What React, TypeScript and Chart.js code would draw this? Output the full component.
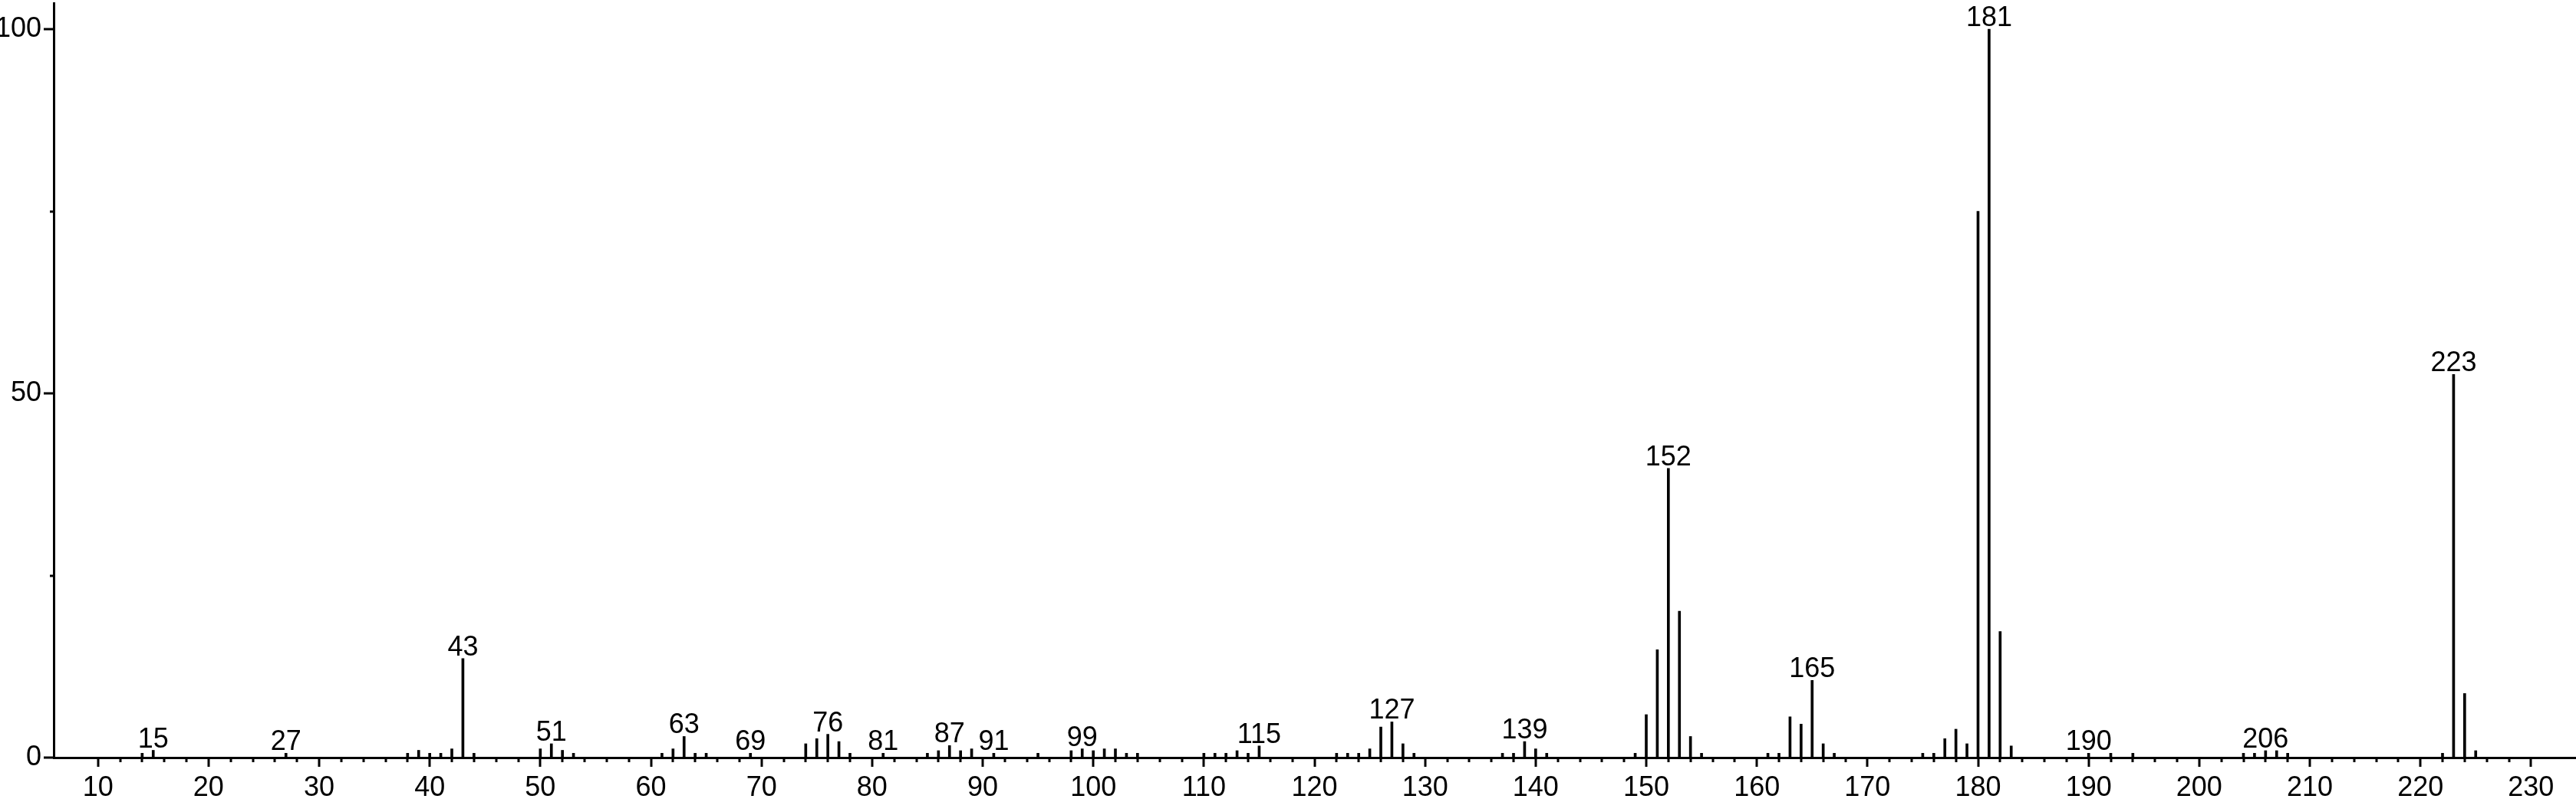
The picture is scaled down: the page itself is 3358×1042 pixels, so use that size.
import React, { useEffect, useRef } from "react";
import { Chart, registerables } from "chart.js";

Chart.register(...registerables);

// m/z values of the peaks
const masses = [
  14, 15, 27, 38, 39, 40, 41, 42, 43, 44,
  50, 51, 52, 53, 61, 62, 63, 64, 65, 69,
  74, 75, 76, 77, 78, 81, 85, 86, 87, 88, 89, 91,
  95, 98, 99, 100, 101, 102, 103, 104,
  110, 111, 112, 113, 114, 115,
  122, 123, 124, 125, 126, 127, 128, 129,
  137, 138, 139, 140, 141,
  149, 150, 151, 152, 153, 154, 155,
  161, 162, 163, 164, 165, 166, 167,
  175, 176, 177, 178, 179, 180, 181, 182, 183,
  190, 192, 194, 204, 205, 206, 207, 208,
  222, 223, 224, 225,
];

// relative intensities (%)
const intensities = [
  0.6, 1.0, 0.6, 0.6, 1.0, 0.6, 0.6, 1.2, 13.6, 0.6,
  1.2, 1.9, 1.0, 0.6, 0.6, 1.2, 2.9, 0.6, 0.6, 0.6,
  1.9, 2.6, 3.2, 2.2, 0.6, 0.6, 0.6, 0.95, 1.65, 0.95, 1.2, 0.6,
  0.6, 0.95, 1.2, 0.95, 1.2, 1.2, 0.6, 0.6,
  0.6, 0.6, 0.6, 0.95, 0.6, 1.6,
  0.6, 0.6, 0.6, 1.2, 4.2, 4.9, 1.9, 0.6,
  0.6, 0.6, 2.2, 1.2, 0.6,
  0.6, 5.9, 14.8, 39.7, 20.1, 2.9, 0.6,
  0.6, 0.6, 5.6, 4.6, 10.6, 1.9, 0.6,
  0.6, 0.6, 2.6, 3.9, 1.9, 75.0, 100, 17.3, 1.6,
  0.6, 0.6, 0.6, 0.6, 0.6, 0.95, 0.95, 0.6,
  0.6, 52.6, 8.8, 0.95,
];

// peaks that carry an m/z annotation
const labeledMasses = [15, 27, 43, 51, 63, 69, 76, 81, 87, 91, 99, 115, 127, 139, 152, 165, 181, 190, 206, 223];

const xTickLabels = [10, 20, 30, 40, 50, 60, 70, 80, 90, 100, 110, 120, 130, 140, 150, 160, 170, 180, 190, 200, 210, 220, 230];
const xMinorTicks = Array.from({ length: 111 }, (_, i) => 10 + i * 2);
const yTickLabels = [0, 50, 100];
const yMinorTicks = [25, 75];

const FONT = '"Liberation Sans", Arial, sans-serif';
const FONT_SIZE = 36;

const decorPlugin = {
  id: "decor",
  afterDraw(chart: any) {
    const ctx = chart.ctx;
    const xs = chart.scales.x;
    const ys = chart.scales.y;
    const base = ys.getPixelForValue(0);
    const axisX = xs.left;
    ctx.save();
    ctx.strokeStyle = "#000";
    ctx.lineWidth = 3;
    // x ticks
    for (const v of xMinorTicks) {
      if (v < xs.min || v > xs.max) continue;
      const px = Math.round(xs.getPixelForValue(v));
      const len = v % 10 === 0 ? 12 : 6;
      ctx.beginPath();
      ctx.moveTo(px, base);
      ctx.lineTo(px, base + len);
      ctx.stroke();
    }
    // y ticks
    for (const v of [...yTickLabels, ...yMinorTicks]) {
      const py = Math.round(ys.getPixelForValue(v));
      const len = yTickLabels.includes(v) ? 13 : 5;
      ctx.beginPath();
      ctx.moveTo(axisX, py);
      ctx.lineTo(axisX - len, py);
      ctx.stroke();
    }
    // peak annotations
    ctx.fillStyle = "#000";
    ctx.font = `${FONT_SIZE}px ${FONT}`;
    ctx.textAlign = "center";
    ctx.textBaseline = "alphabetic";
    for (const m of labeledMasses) {
      const i = masses.indexOf(m);
      if (i < 0) continue;
      const px = xs.getPixelForValue(m);
      const py = ys.getPixelForValue(intensities[i]);
      ctx.fillText(String(m), px, py - 4);
    }
    ctx.restore();
  },
};

export default function App() {
  const canvasRef = useRef<HTMLCanvasElement | null>(null);

  useEffect(() => {
    document.body.style.margin = "0";
    document.body.style.overflow = "hidden";
    const canvas = canvasRef.current;
    if (!canvas) return;
    const chart = new Chart(canvas, {
      type: "bar",
      data: {
        datasets: [
          {
            data: masses.map((m, i) => ({ x: m, y: intensities[i] })),
            backgroundColor: "#000",
            borderWidth: 0,
            barThickness: 3,
          },
        ],
      },
      options: {
        responsive: false,
        animation: false,
        layout: { padding: { top: 4, right: 1, left: 0, bottom: 0 } },
        plugins: {
          legend: { display: false },
          tooltip: { enabled: false },
        },
        scales: {
          x: {
            type: "linear",
            min: 6,
            max: 234,
            offset: false,
            afterBuildTicks: (s: any) => {
              s.ticks = xTickLabels.map((v) => ({ value: v }));
            },
            afterFit: (s: any) => {
              s.height = 54;
              s.paddingLeft = 0;
              s.paddingRight = 0;
            },
            grid: { display: false, drawTicks: false },
            border: { display: true, color: "#000", width: 3 },
            ticks: {
              font: { size: FONT_SIZE, family: FONT },
              color: "#000",
              padding: 18,
              maxRotation: 0,
              autoSkip: false,
            },
          },
          y: {
            type: "linear",
            min: 0,
            max: 103.6,
            afterBuildTicks: (s: any) => {
              s.ticks = yTickLabels.map((v) => ({ value: v }));
            },
            afterFit: (s: any) => {
              s.width = 70;
              s.paddingTop = 0;
              s.paddingBottom = 0;
            },
            grid: { display: false, drawTicks: false },
            border: { display: true, color: "#000", width: 3 },
            ticks: {
              font: { size: FONT_SIZE, family: FONT },
              color: "#000",
              padding: 16,
              autoSkip: false,
            },
          },
        },
      },
      plugins: [decorPlugin],
    } as any);
    return () => chart.destroy();
  }, []);

  return (
    <div style={{ position: "absolute", left: 0, top: 0, width: 3358, height: 1042, background: "#fff" }}>
      <canvas ref={canvasRef} width={3358} height={1042} style={{ display: "block" }} />
    </div>
  );
}
